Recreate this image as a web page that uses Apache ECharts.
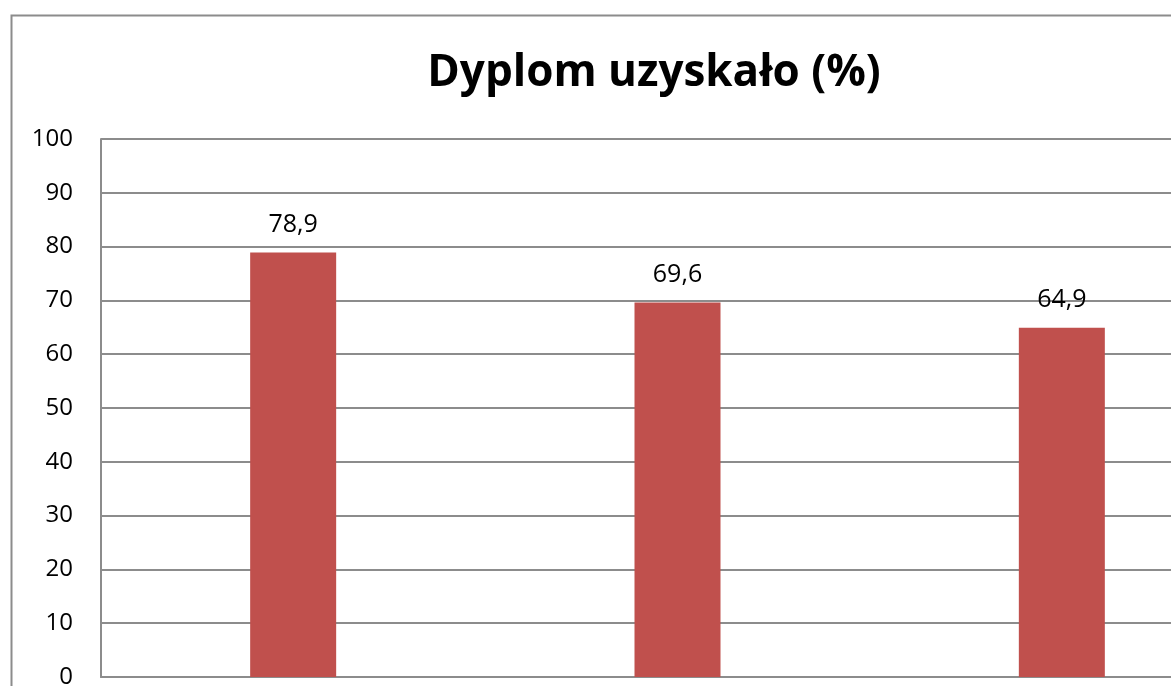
<!DOCTYPE html>
<html>
<head>
<meta charset="utf-8">
<script src="https://cdn.jsdelivr.net/npm/echarts@6/dist/echarts.min.js"></script>
<style>
  html, body { margin: 0; padding: 0; background: #fff; }
  #chart { width: 1171px; height: 686px; }
</style>
</head>
<body>
<div id="chart"></div>
<script>
const categories = ['A', 'B', 'C']
const dyplomValues = [78.9, 69.6, 64.9]
const yTicks = [0, 10, 20, 30, 40, 50, 60, 70, 80, 90, 100]

const chart = echarts.init(document.getElementById('chart'))

chart.setOption({
  animation: false,
  textStyle: { fontFamily: '"Open Sans", sans-serif' },
  title: {
    text: 'Dyplom uzyskało (%)',
    left: 649,
    top: 46,
    textAlign: 'center',
    textStyle: {
      fontSize: 44,
      fontWeight: 'bold',
      color: '#000',
      fontFamily: '"Open Sans", sans-serif'
    }
  },
  graphic: [
    {
      type: 'rect',
      shape: { x: 11.5, y: 15.5, width: 1400, height: 900 },
      style: { fill: 'none', stroke: '#8c8c8c', lineWidth: 2 },
      z: -1
    }
  ],
  grid: {
    left: 101,
    right: -83,
    top: 139,
    bottom: 9,
    containLabel: false,
    outerBoundsMode: 'none'
  },
  xAxis: {
    type: 'category',
    data: categories,
    axisTick: { show: false },
    axisLabel: { show: false },
    axisLine: { show: true, lineStyle: { color: '#8c8c8c', width: 2 } }
  },
  yAxis: {
    type: 'value',
    min: yTicks[0],
    max: yTicks[yTicks.length - 1],
    interval: 10,
    axisTick: { show: false },
    axisLine: { show: true, lineStyle: { color: '#8c8c8c', width: 2 } },
    axisLabel: {
      color: '#000',
      fontSize: 24,
      margin: 28
    },
    splitLine: {
      show: true,
      lineStyle: { color: '#8c8c8c', width: 2 }
    }
  },
  series: [
    {
      type: 'bar',
      data: dyplomValues,
      barWidth: 86,
      itemStyle: { color: '#c0504d' },
      label: {
        show: true,
        position: 'top',
        distance: 15,
        color: '#000',
        fontSize: 25,
        formatter: p => String(p.value).replace('.', ',')
      }
    }
  ]
})
</script>
</body>
</html>
